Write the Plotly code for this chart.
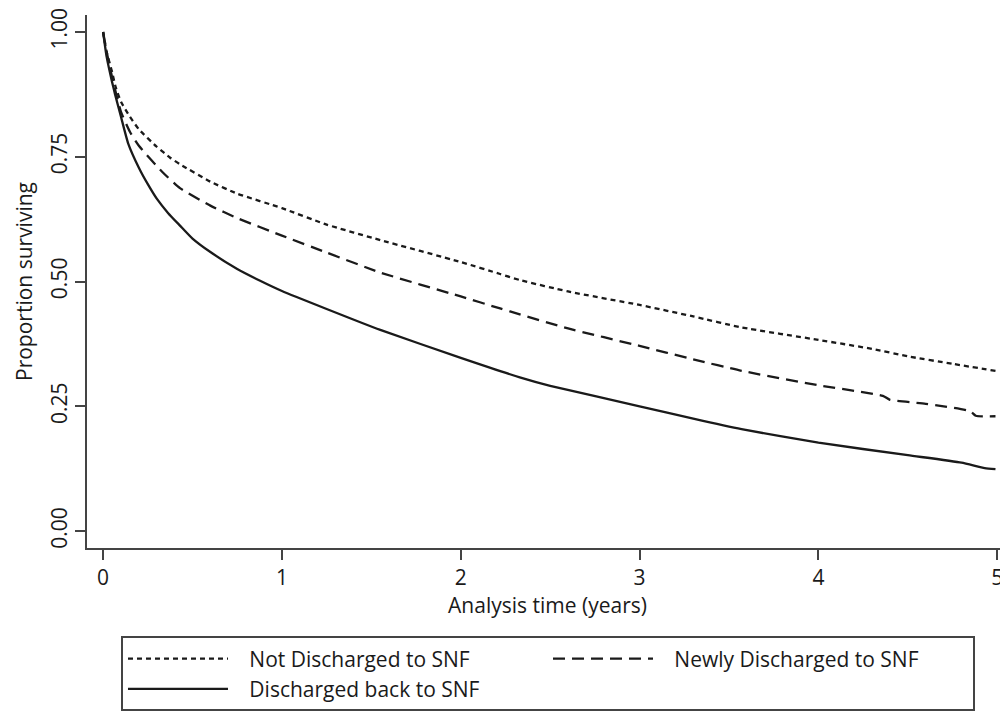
import plotly.graph_objects as go

# Analysis time (years) and survival proportions
t_not = [0, 0.02, 0.05, 0.07, 0.10, 0.15, 0.20, 0.30, 0.375, 0.43, 0.60, 0.75, 1.00, 1.25, 1.55, 2.00, 2.22, 2.33, 2.60, 3.00, 3.30, 3.57, 4.00, 4.30, 4.50, 4.75, 4.99]
s_not = [1.00, 0.96, 0.92, 0.89, 0.86, 0.83, 0.805, 0.77, 0.748, 0.735, 0.70, 0.676, 0.647, 0.614, 0.583, 0.539, 0.515, 0.503, 0.480, 0.453, 0.430, 0.408, 0.383, 0.365, 0.350, 0.335, 0.321]

t_new = [0, 0.02, 0.05, 0.07, 0.10, 0.15, 0.20, 0.33, 0.43, 0.60, 0.75, 1.00, 1.25, 1.55, 2.00, 2.22, 2.33, 2.60, 3.00, 3.30, 3.57, 4.00, 4.36, 4.40, 4.60, 4.85, 4.88, 4.99]
s_new = [1.00, 0.96, 0.91, 0.88, 0.84, 0.80, 0.772, 0.72, 0.687, 0.652, 0.627, 0.592, 0.558, 0.518, 0.470, 0.446, 0.434, 0.406, 0.371, 0.344, 0.321, 0.292, 0.271, 0.263, 0.255, 0.240, 0.231, 0.230]

t_back = [0, 0.02, 0.05, 0.067, 0.10, 0.14, 0.20, 0.25, 0.30, 0.364, 0.43, 0.50, 0.60, 0.75, 0.875, 1.00, 1.25, 1.55, 2.00, 2.33, 2.50, 3.00, 3.30, 3.57, 4.00, 4.50, 4.80, 4.93, 4.99]
s_back = [1.00, 0.95, 0.90, 0.875, 0.83, 0.777, 0.728, 0.695, 0.666, 0.637, 0.612, 0.586, 0.559, 0.525, 0.502, 0.481, 0.445, 0.403, 0.347, 0.308, 0.291, 0.250, 0.225, 0.204, 0.177, 0.152, 0.137, 0.126, 0.124]

names = ["Not Discharged to SNF", "Newly Discharged to SNF", "Discharged back to SNF"]
dashes = ["5px,4px", "12px,7px", "solid"]

x_ticks = [0, 1, 2, 3, 4, 5]
y_ticks = [0, 0.25, 0.5, 0.75, 1.0]
y_tick_text = ["0.00", "0.25", "0.50", "0.75", "1.00"]

FONT = "Open Sans, Noto Sans, sans-serif"
INK = "#1a1a1a"
PAD = "\u00a0\u00a0\u00a0"

fig = go.Figure()
for xs, ys, nm, ds in zip([t_not, t_new, t_back], [s_not, s_new, s_back], names, dashes):
    fig.add_trace(go.Scatter(
        x=xs, y=ys, name=PAD + nm, mode="lines",
        line=dict(color=INK, width=2.3, dash=ds, shape="spline", smoothing=0.5),
    ))

# page body has an 8px margin, so the figure is 8px smaller than the window
fig.update_layout(
    width=1000, height=711,
    margin=dict(l=79, r=0, t=7, b=171, autoexpand=False),
    paper_bgcolor="white", plot_bgcolor="white",
    font=dict(family=FONT, size=21, color=INK),
    showlegend=True,
    legend=dict(
        orientation="h",
        x=0.0369, y=-0.166, xanchor="left", yanchor="top",
        xref="paper", yref="paper",
        bordercolor="#444", borderwidth=2,
        entrywidth=310, entrywidthmode="pixels",
        itemwidth=100,
        font=dict(family=FONT, size=21, color=INK),
        bgcolor="white",
        traceorder="normal",
    ),
)

fig.update_xaxes(
    range=[-0.09, 5.06],
    tickvals=x_ticks, ticktext=[str(v) for v in x_ticks],
    showline=True, linecolor="#444", linewidth=2,
    ticks="outside", ticklen=10, tickwidth=2, tickcolor="#444",
    showgrid=False, zeroline=False,
    title=dict(text="Analysis time (years)", font=dict(size=21), standoff=4),
    tickfont=dict(size=21),
)
fig.update_yaxes(
    range=[-0.034, 1.034],
    tickvals=y_ticks, ticktext=y_tick_text, tickangle=-90,
    showline=True, linecolor="#444", linewidth=2,
    ticks="outside", ticklen=10, tickwidth=2, tickcolor="#444",
    showgrid=False, zeroline=False,
    title=dict(text="Proportion surviving", font=dict(size=21), standoff=6),
    tickfont=dict(size=21),
)

fig.write_html("out.html")
